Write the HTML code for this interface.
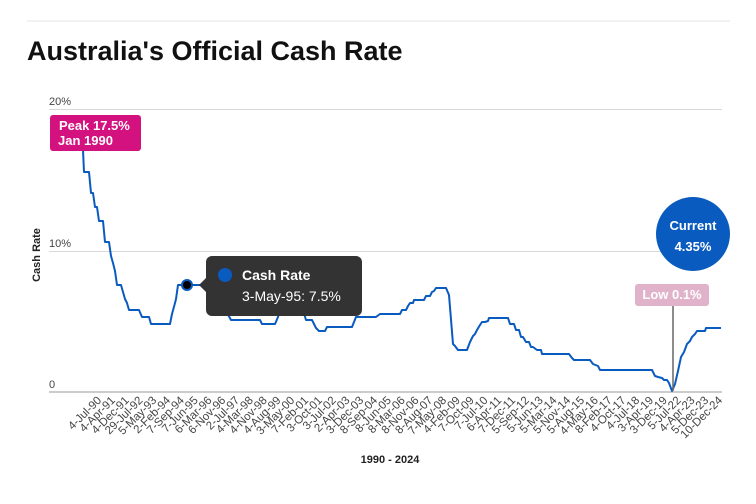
<!DOCTYPE html>
<html><head><meta charset="utf-8"><style>
body{margin:0;background:#fff;font-family:"Liberation Sans",Arial,sans-serif}
</style></head><body>
<svg width="756" height="499" viewBox="0 0 756 499" xmlns="http://www.w3.org/2000/svg" font-family="Liberation Sans, Arial, sans-serif">
<line x1="27" y1="21" x2="730" y2="21" stroke="#e6e6e6"/>
<text x="27" y="60" font-size="27" font-weight="bold" fill="#111">Australia's Official Cash Rate</text>
<g stroke="#d9d9d9" stroke-width="1">
<line x1="49" y1="109.5" x2="722" y2="109.5"/>
<line x1="49" y1="251.5" x2="722" y2="251.5"/>
</g>
<line x1="49" y1="392" x2="722" y2="392" stroke="#ccc" stroke-width="2"/>
<g font-size="11" fill="#444">
<text x="49" y="105">20%</text>
<text x="49" y="247">10%</text>
<text x="49" y="388">0</text>
</g>
<text transform="translate(40,255) rotate(-90)" text-anchor="middle" font-size="11" font-weight="bold" fill="#222">Cash Rate</text>
<text x="390" y="463" text-anchor="middle" font-size="11" font-weight="bold" fill="#222">1990 - 2024</text>
<g id="xl" font-size="11.5" fill="#444" text-anchor="end"></g>
<polyline fill="none" stroke="#0a5bbf" stroke-width="2" stroke-linejoin="round" points="83,150 84,172 89,172 91,193 93,193 95,207 97,207 99,221 103,221 105,242 109,242 111,256 113,263 115,271 117,285 121,285 125,299 127,303 129,310 139,310 142,317 149,317 151,324 170,324 172,314 175,303 176,299 178,285 181,285 187,285 202,285 220,300 231,320 260,320 262,324 275,324 278,317 282,304 300,304 303,310 306,320 312,320 316,328 319,331 325,331 327,327 352,327 356,317 376,317 380,314 400,314 402,310 406,310 408,306 410,303 413,303 414,300 424,300 426,296 430,296 432,292 434,291 436,288 446,288 449,295 453,344 455,346 458,350 467,350 470,342 473,336 475,334 477,330 480,325 482,322 485,322 488,321 489,318 508,318 510,324 514,324 516,330 519,330 521,337 523,337 526,342 529,342 531,347 533,347 537,350 541,350 542,354 569,354 572,358 574,360 590,360 593,364 598,366 600,370 652,370 655,376 658,377 662,378 664,380 667,380 669,383 672,391 675,384 678,371 681,357 684,352 687,344 690,341 692,337 695,334 697,331 705,331 706,328 721,328"/>
<circle cx="187" cy="285" r="5" fill="#000" stroke="#0a5bbf" stroke-width="2"/>
<path d="M212,256 H356 a6,6 0 0 1 6,6 V310 a6,6 0 0 1 -6,6 H212 a6,6 0 0 1 -6,-6 V292 L199,285 L206,278 V262 a6,6 0 0 1 6,-6Z" fill="#333"/>
<circle cx="225" cy="275" r="7" fill="#0a5bbf"/>
<text x="242" y="280" font-size="14" font-weight="bold" fill="#fff">Cash Rate</text>
<text x="242" y="301" font-size="14" fill="#fff">3-May-95: 7.5%</text>
<rect x="50" y="115" width="91" height="36" rx="3" fill="#d4127f"/>
<text x="59" y="130" font-size="13" font-weight="bold" fill="#fff">Peak 17.5%</text>
<text x="58" y="145" font-size="13" font-weight="bold" fill="#fff">Jan 1990</text>
<circle cx="693" cy="234" r="37" fill="#0a5bbf"/>
<text x="693" y="230" text-anchor="middle" font-size="13" font-weight="bold" fill="#fff">Current</text>
<text x="693" y="251" text-anchor="middle" font-size="13" font-weight="bold" fill="#fff">4.35%</text>
<line x1="673" y1="306" x2="673" y2="391" stroke="#666" stroke-width="1.5"/>
<rect x="635" y="284" width="74" height="22" rx="3" fill="#e0b3cb"/>
<text x="672" y="299" text-anchor="middle" font-size="13" font-weight="bold" fill="#fff">Low 0.1%</text>
</svg>
<script>
var L="4-Jul-90,4-Apr-91,4-Dec-91,29-Jul-92,5-May-93,2-Feb-94,7-Sep-94,7-Jun-95,6-Mar-96,6-Nov-96,2-Jul-97,4-Mar-98,4-Nov-98,4-Aug-99,3-May-00,7-Feb-01,3-Oct-01,3-Jul-02,2-Apr-03,3-Dec-03,8-Sep-04,8-Jun-05,8-Mar-06,8-Nov-06,8-Aug-07,7-May-08,4-Feb-09,7-Oct-09,7-Jul-10,6-Apr-11,7-Dec-11,5-Sep-12,5-Jun-13,5-Mar-14,5-Nov-14,5-Aug-15,4-May-16,8-Feb-17,4-Oct-17,4-Jul-18,3-Apr-19,3-Dec-19,5-Jul-22,4-Apr-23,5-Dec-23,10-Dec-24".split(",");
var g=document.getElementById("xl"),s="";
for(var i=0;i<L.length;i++){var x=102+i*(621/45);s+='<text transform="translate('+x.toFixed(1)+',401) rotate(-45)">'+L[i]+'</text>';}
g.innerHTML=s;
</script>
</body></html>
